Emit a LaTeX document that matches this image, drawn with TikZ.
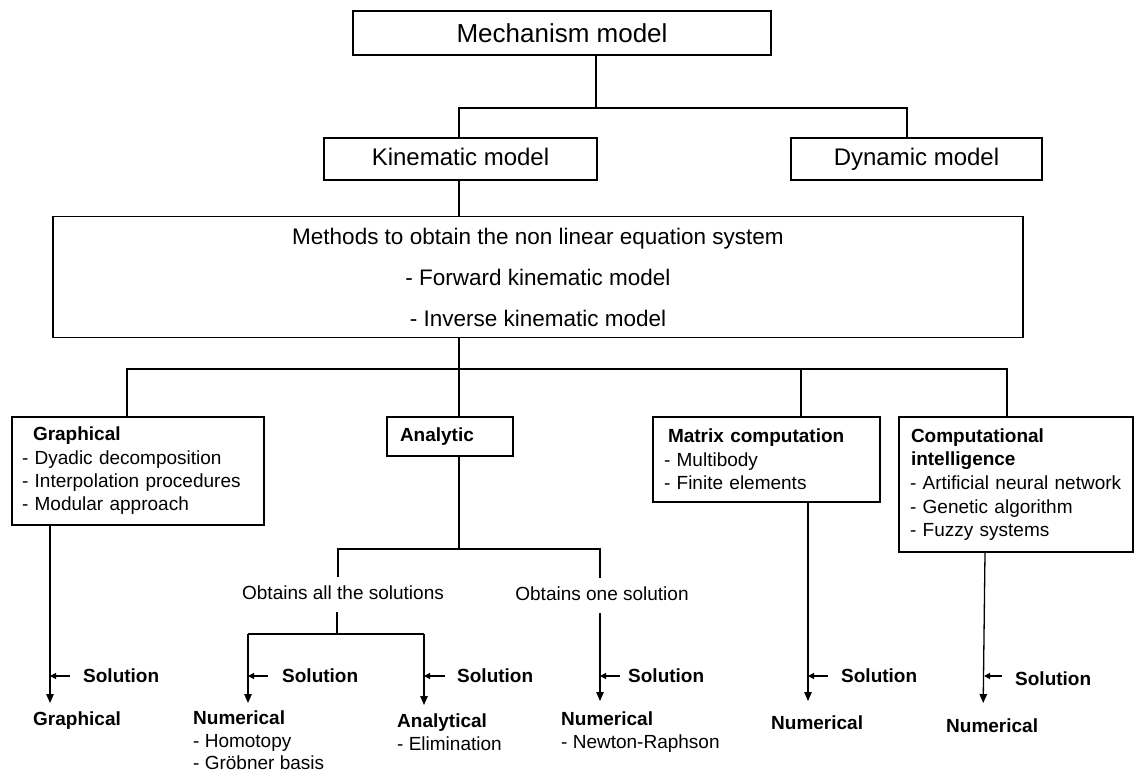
\documentclass[tikz,border=0pt]{standalone}
\usepackage{fontspec}
\setmainfont{Liberation Sans}
\usetikzlibrary{arrows.meta,calc}
\begin{document}
\begin{tikzpicture}[x=1pt,y=-1pt,
  box/.style={draw, line width=1.3pt, inner sep=0pt, rectangle},
  conn/.style={line width=1.2pt},
  arr/.style={line width=1.3pt,-{Triangle[length=9pt,width=7.5pt]}},
  sarr/.style={line width=1.2pt,-{Triangle[length=6pt,width=6pt]}},
  txt/.style={inner sep=0pt, font=\fontsize{19}{22.5}\selectfont, align=left},
  lbl/.style={inner sep=0pt, font=\fontsize{19}{23}\selectfont\bfseries},
  midtxt/.style={inner sep=0pt, font=\fontsize{19}{23}\selectfont},
]
\useasboundingbox (0,0) rectangle (1134,773);

% top level
\node[box, minimum width=418pt, minimum height=44pt, font=\fontsize{26}{30}\selectfont] (mech) at (562,33) {Mechanism model};
\node[box, minimum width=273pt, minimum height=42pt, text height=17.5pt, text depth=4.5pt, font=\fontsize{24}{28}\selectfont] (kin) at (460.5,159) {Kinematic model};
\node[box, minimum width=251pt, minimum height=42pt, text height=17.5pt, text depth=4.5pt, font=\fontsize{24}{28}\selectfont] (dyn) at (916.5,159) {Dynamic model};
\node[box, minimum width=970pt, minimum height=121pt, align=center, font=\fontsize{22.5}{41}\selectfont] (meth) at (538,277)
  {Methods to obtain the non linear equation system\\- Forward kinematic model\\- Inverse kinematic model};

% method boxes
\node[box, minimum width=252pt, minimum height=108pt, text width=232pt, inner xsep=10pt, align=left, font=\fontsize{19}{23.3}\selectfont] (graph) at (138,471)
  {\hspace*{11pt}\textbf{Graphical}\\- Dyadic decomposition\\- Interpolation procedures\\- Modular approach};
\node[box, minimum width=126pt, minimum height=39pt, text width=100pt, inner xsep=13pt, align=left, font=\fontsize{19}{23}\selectfont] (ana) at (450,436.5)
  {\textbf{Analytic}};
\node[box, minimum width=227pt, minimum height=85pt, text width=205pt, inner xsep=11pt, align=left, font=\fontsize{19}{23.5}\selectfont] (mat) at (766.5,459.5)
  {\hspace*{4pt}\textbf{Matrix computation}\\- Multibody\\- Finite elements};
\node[box, minimum width=234pt, minimum height=135pt, text width=212pt, inner xsep=11pt, align=left, font=\fontsize{19}{23.7}\selectfont] (comp) at (1016,484.5)
  {\hspace*{1pt}\textbf{Computational}\\\hspace*{1pt}\textbf{intelligence}\\- Artificial neural network\\- Genetic algorithm\\- Fuzzy systems};

% bus coordinates
\coordinate (b1) at (596,108);
\coordinate (bk) at (459,108);
\coordinate (bd) at (907,108);
\coordinate (b2) at (459,369);
\coordinate (c1) at (127,369);
\coordinate (c3) at (801,369);
\coordinate (c4) at (1007,369);

\draw[conn] (mech.south -| b1) -- (b1);
\draw[conn] (kin.north -| bk) -- (bk) -- (bd) -- (dyn.north -| bd);
\draw[conn] (kin.south -| bk) -- (meth.north -| bk);
\draw[conn] (meth.south -| b2) -- (b2);
\draw[conn] (graph.north -| c1) -- (c1) -- (c4) -- (comp.north -| c4);
\draw[conn] (b2) -- (ana.north -| b2);
\draw[conn] (c3) -- (mat.north -| c3);

% results
\node[lbl, anchor=north west] (rgraph) at (33,712) {Graphical};
\node[txt, anchor=north west] (rnum1) at (193,711) {\textbf{Numerical}\\- Homotopy\\- Gröbner basis};
\node[txt, anchor=north west] (rana) at (397,714) {\textbf{Analytical}\\- Elimination};
\node[txt, anchor=north west] (rnum2) at (561,712) {\textbf{Numerical}\\- Newton-Raphson};
\node[lbl, anchor=north west] (rnum3) at (771,716) {Numerical};
\node[lbl, anchor=north west] (rnum4) at (946,719) {Numerical};

% analytic sub-tree
\coordinate (a0) at (459,549);
\coordinate (aL) at (338,549);
\coordinate (aR) at (600,549);
\node[midtxt] (all) at (343,593) {Obtains all the solutions};
\node[midtxt] (one) at (602,594) {Obtains one solution};
\draw[conn] (ana.south -| a0) -- (a0);
\draw[conn] ([yshift=9pt]all.north -| aL) -- (aL) -- (aR) -- ([yshift=9pt]one.north -| aR);
\coordinate (aB) at (337,634);
\coordinate (nL) at (248,634);
\coordinate (nR) at (424,634);
\draw[conn] ([yshift=-12pt]all.south -| aB) -- (aB);
\draw[conn] (nL) -- (nR);

% main arrows
\coordinate (g1) at (50,0);
\coordinate (m1) at (808,0);
\coordinate (cc) at (985,0);
\coordinate (cc2) at (983,0);
\draw[arr, shorten >=9pt] (graph.south -| g1) -- (rgraph.north -| g1);
\draw[arr, shorten >=8pt] (nL) -- (rnum1.north -| nL);
\draw[arr, shorten >=9pt] (nR) -- (rana.north -| nR);
\draw[arr, shorten >=11pt] ([yshift=-12pt]one.south -| aR) -- (rnum2.north -| aR);
\draw[arr, shorten >=15pt] (mat.south -| m1) -- (rnum3.north -| m1);
\draw[arr, shorten >=16pt] (comp.south -| cc) -- (rnum4.north -| cc2);

% solution labels
\node[lbl, anchor=west] (s1) at (83,676) {Solution};
\node[lbl, anchor=west] (s2) at (282,676) {Solution};
\node[lbl, anchor=west] (s3) at (457,676) {Solution};
\node[lbl, anchor=west] (s4) at (628,676) {Solution};
\node[lbl, anchor=west] (s5) at (841,676) {Solution};
\node[lbl, anchor=west] (s6) at (1015,679) {Solution};
\coordinate (cc3) at (984,0);
\draw[sarr] ([xshift=-13pt]s1.west) -- (s1.west -| g1);
\draw[sarr] ([xshift=-14pt]s2.west) -- (s2.west -| nL);
\draw[sarr] ([xshift=-12pt]s3.west) -- (s3.west -| nR);
\draw[sarr] ([xshift=-8pt]s4.west) -- (s4.west -| aR);
\draw[sarr] ([xshift=-13pt]s5.west) -- (s5.west -| m1);
\draw[sarr] ([xshift=-13pt,yshift=3pt]s6.west) -- ([yshift=3pt]s6.west -| cc3);
\end{tikzpicture}
\end{document}
